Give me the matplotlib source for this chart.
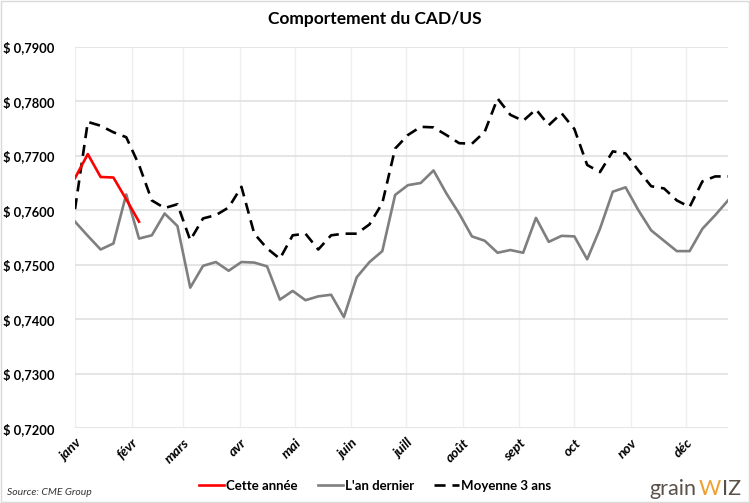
import numpy as np
import matplotlib
matplotlib.use("Agg")
import matplotlib.pyplot as plt
from matplotlib.ticker import FuncFormatter, FixedLocator
from matplotlib.patches import Rectangle

plt.rcParams['font.family'] = ['Lato', 'DejaVu Sans']

title = "Comportement du CAD/US"
months = ["janv", "févr", "mars", "avr", "mai", "juin", "juill", "août", "sept", "oct", "nov", "déc"]
month_days = [31, 28, 31, 30, 31, 30, 31, 31, 30, 31, 30, 31]

cette_annee = [0.7659, 0.7703, 0.7661, 0.7660, 0.7620, 0.7579]

an_dernier = [0.7579, 0.7553, 0.7528, 0.7539, 0.7629, 0.7548, 0.7554, 0.7594, 0.7571, 0.7458,
              0.7498, 0.7505, 0.7489, 0.7505, 0.7504, 0.7497, 0.7436, 0.7452, 0.7435, 0.7442,
              0.7445, 0.7404, 0.7477, 0.7505, 0.7525, 0.7628, 0.7646, 0.7650, 0.7673, 0.7631,
              0.7594, 0.7552, 0.7544, 0.7522, 0.7527, 0.7522, 0.7586, 0.7542, 0.7553, 0.7552,
              0.7510, 0.7566, 0.7634, 0.7642, 0.7600, 0.7563, 0.7544, 0.7525, 0.7525, 0.7566,
              0.7591, 0.7618]

moyenne_3_ans = [0.7602, 0.7762, 0.7755, 0.7743, 0.7734, 0.7683, 0.7618, 0.7604, 0.7611, 0.7545,
                 0.7585, 0.7591, 0.7605, 0.7643, 0.7557, 0.7530, 0.7511, 0.7554, 0.7557, 0.7528,
                 0.7554, 0.7557, 0.7557, 0.7574, 0.7613, 0.7713, 0.7738, 0.7753, 0.7752, 0.7738,
                 0.7723, 0.7722, 0.7744, 0.7805, 0.7775, 0.7764, 0.7785, 0.7756, 0.7778, 0.7749,
                 0.7683, 0.7670, 0.7708, 0.7704, 0.7673, 0.7644, 0.7640, 0.7618, 0.7606, 0.7653,
                 0.7662, 0.7662]

y_ticks = [0.72, 0.73, 0.74, 0.75, 0.76, 0.77, 0.78, 0.79]

fig = plt.figure(figsize=(7.5, 5.03), dpi=100)
fig.patches.append(Rectangle((0.001, 0.001), 0.997, 0.997, transform=fig.transFigure,
                             fill=False, edgecolor="#d9d9d9", linewidth=1.0))
ax = fig.add_axes([0.1, 0.1485, 0.8707, 0.7587])

w_last = np.arange(len(an_dernier))
w_this = np.arange(len(cette_annee))

ax.plot(w_last, moyenne_3_ans, color="black", lw=1.9, linestyle=(0, (4.2, 2.6)),
        label="Moyenne 3 ans", zorder=3)
ax.plot(w_last, an_dernier, color="#7f7f7f", lw=1.9, label="L'an dernier", zorder=4)
ax.plot(w_this, cette_annee, color="#ff0000", lw=1.9, label="Cette année", zorder=5)

ax.set_xlim(0, len(an_dernier) - 1)
ax.set_ylim(y_ticks[0], y_ticks[-1])
month_pos = np.concatenate([[0], np.cumsum(month_days[:-1])]) / 7.0
ax.xaxis.set_major_locator(FixedLocator(month_pos))
ax.set_xticklabels(months, rotation=45, ha="right", va="top", rotation_mode="anchor",
                   fontsize=10, fontweight="bold", fontstyle="italic")
ax.yaxis.set_major_locator(FixedLocator(y_ticks))
ax.yaxis.set_major_formatter(FuncFormatter(lambda v, p: "$ " + f"{v:.4f}".replace(".", ",")))
for lab in ax.get_yticklabels():
    lab.set_fontweight("bold")
    lab.set_fontsize(9.3)
ax.tick_params(axis="both", length=0)
ax.tick_params(axis="y", pad=15)
ax.tick_params(axis="x", pad=6)
ax.grid(axis="y", color="#e0e0e0", lw=1.2)
ax.grid(axis="x", color="#efefef", lw=1.0)
ax.set_axisbelow(True)
for s in ax.spines.values():
    s.set_visible(False)

fig.text(0.5, 0.962, title, ha="center", va="center", fontsize=12.5, fontweight="bold")

handles, labels = ax.get_legend_handles_labels()
order = [2, 1, 0]
leg = fig.legend([handles[i] for i in order], [labels[i] for i in order], loc="center",
                 bbox_to_anchor=(0.5, 0.034), ncol=3, frameon=False, handlelength=1.9,
                 handletextpad=0.15, columnspacing=1.5, prop={"weight": "bold", "size": 9.5})

fig.text(0.009, 0.02, "Source: CME Group", ha="left", va="center", fontsize=7.5,
         fontstyle="italic", color="#333333")

fig.text(0.866, 0.016, "grain", ha="left", va="baseline", fontsize=15.5, color="#5a5048")
fig.text(0.931, 0.016, "W", ha="left", va="baseline", fontsize=15.5, color="#f0a030")
fig.text(0.962, 0.016, "IZ", ha="left", va="baseline", fontsize=15.5, color="#5a5048")

fig.savefig("out.png", dpi=100)
